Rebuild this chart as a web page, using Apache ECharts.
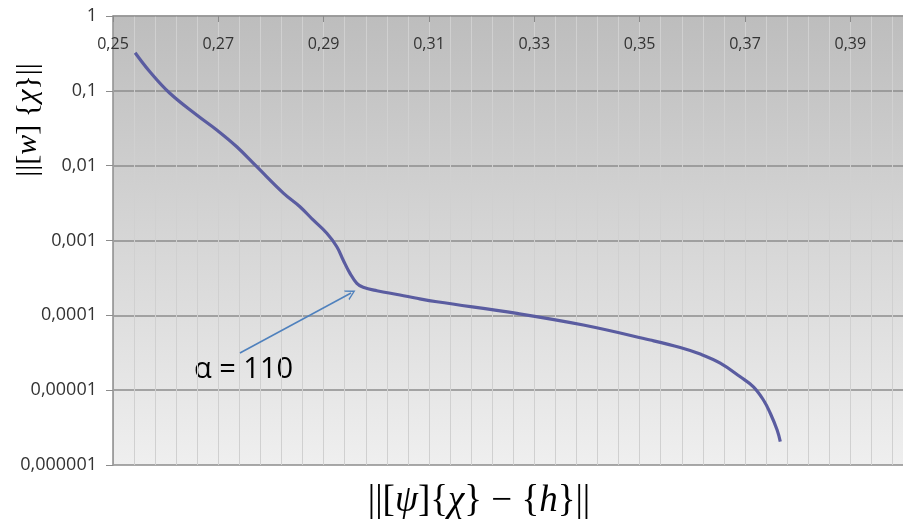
<!DOCTYPE html>
<html>
<head>
<meta charset="utf-8">
<script src="https://cdn.jsdelivr.net/npm/echarts@6/dist/echarts.min.js"></script>
<style>html,body{margin:0;padding:0;background:#fff}#c{width:903px;height:527px}</style>
</head>
<body>
<div id="c"></div>
<script>
// Curve samples
const xValues = [0.2542, 0.2570, 0.2608, 0.2659, 0.2697, 0.2735, 0.2773, 0.2824, 0.2855, 0.2880,
                 0.2906, 0.2925, 0.2937, 0.2950, 0.2963, 0.2975, 0.3001, 0.3045, 0.3077, 0.3115,
                 0.3267, 0.3393, 0.3520, 0.3577, 0.3615, 0.3653, 0.3691, 0.3716, 0.3735, 0.3748,
                 0.3761, 0.3767];
const yValues = [0.323, 0.180, 0.0927, 0.0475, 0.0300, 0.0179, 0.00969, 0.00427, 0.00283, 0.00188,
                 0.00125, 0.000826, 0.000549, 0.000364, 0.000268, 0.000237, 0.000213, 0.000187, 0.000169, 0.000152,
                 0.000106, 0.0000742, 0.0000468, 0.0000372, 0.0000304, 0.0000230, 0.0000151, 0.0000111, 0.00000739, 0.00000491,
                 0.00000293, 0.00000205];
// Tick labels
const yTickLabels = ['1', '0,1', '0,01', '0,001', '0,0001', '0,00001', '0,000001'];
const xTickValues = [0.25, 0.27, 0.29, 0.31, 0.33, 0.35, 0.37, 0.39];
const xTickLabels = ['0,25', '0,27', '0,29', '0,31', '0,33', '0,35', '0,37', '0,39'];
// Annotation
const annotationText = 'α = 110';
const arrowFrom = [0.2741, 0.0000314];
const arrowTo = [0.2952, 0.000199];

const X_MIN = 0.25, X_MAX = 0.40, X_GRID_STEP = 0.004;
const gridBox = {left: 113, right: 0, top: 16, bottom: 62};

const chart = echarts.init(document.getElementById('c'), null, {renderer: 'canvas'});
const data = xValues.map((x, i) => [x, yValues[i]]);

chart.setOption({
  animation: false,
  backgroundColor: '#ffffff',
  grid: [
    Object.assign({
      show: true, borderWidth: 0,
      backgroundColor: {
        type: 'linear', x: 0, y: 0, x2: 0, y2: 1,
        colorStops: [{offset: 0, color: '#bdbdbd'}, {offset: 1, color: '#efefef'}]
      }
    }, gridBox),
    Object.assign({show: false}, gridBox)
  ],
  xAxis: [{
    gridIndex: 0,
    type: 'value',
    position: 'top',
    min: X_MIN, max: X_MAX, interval: X_GRID_STEP,
    axisLine: {show: true, lineStyle: {color: '#9a9a9a', width: 1.5}},
    axisTick: {show: false},
    axisLabel: {
      inside: true, margin: 20, color: '#333333', fontSize: 16, fontFamily: 'Open Sans',
      customValues: xTickValues,
      formatter: (v) => {
        const i = xTickValues.findIndex(t => Math.abs(t - v) < 1e-6);
        return i >= 0 ? xTickLabels[i] : '';
      }
    },
    splitLine: {show: true, lineStyle: {color: '#d0d0d0', width: 1}}
  }, {
    gridIndex: 1,
    type: 'value',
    position: 'top',
    min: X_MIN, max: X_MAX,
    axisLine: {show: false},
    axisTick: {show: true, inside: true, length: 6, customValues: xTickValues, lineStyle: {color: '#8a8a8a'}},
    axisLabel: {show: false},
    splitLine: {show: false}
  }],
  yAxis: [{
    gridIndex: 0,
    type: 'log', logBase: 10, min: 0.000001, max: 1,
    axisLine: {show: true, lineStyle: {color: '#8c8c8c', width: 1.5}},
    axisTick: {show: true, length: 7, lineStyle: {color: '#8c8c8c'}},
    axisLabel: {
      margin: 16, color: '#333333', fontSize: 18, fontFamily: 'Open Sans',
      formatter: (v) => {
        const e = Math.round(-Math.log10(v));
        return yTickLabels[e] || '';
      }
    },
    splitLine: {show: true, lineStyle: {color: '#8c8c8c', width: 1.5}}
  }, {
    gridIndex: 1,
    type: 'log', logBase: 10, min: 0.000001, max: 1,
    show: false
  }],
  series: [{
    type: 'line',
    xAxisIndex: 0, yAxisIndex: 0,
    data: data,
    smooth: 0.4,
    showSymbol: false,
    lineStyle: {color: '#5a5ca0', width: 3.2},
    silent: true,
    markLine: {
      silent: true,
      animation: false,
      label: {show: false},
      lineStyle: {color: '#4f81bd', width: 1.5, type: 'solid'},
      symbol: ['none', 'path://M0,10 L5,0 L10,10 L8.6,10 L5,2.8 L1.4,10 Z'],
      symbolSize: [11, 10],
      data: [[{coord: arrowFrom}, {coord: arrowTo}]]
    }
  }],
  graphic: [
    {
      type: 'text', left: 194, top: 355,
      style: {text: annotationText, fill: '#000000', font: '29px "Open Sans"'}
    },
    {
      type: 'text', x: 28, y: 120, rotation: Math.PI / 2,
      style: {
        text: '||[{i|w}] {{i|χ}}||', align: 'center', verticalAlign: 'middle',
        fill: '#000000', font: '30px "Liberation Serif"',
        rich: {i: {fontStyle: 'italic', fontSize: 30, fontFamily: 'Liberation Serif'}}
      }
    },
    {
      type: 'text', x: 479, y: 501,
      style: {
        text: '||[{i|ψ}]{{i|χ}} − {{i|h}}||', align: 'center', verticalAlign: 'middle',
        fill: '#000000', font: '37px "Liberation Serif"',
        rich: {i: {fontStyle: 'italic', fontSize: 37, fontFamily: 'Liberation Serif'}}
      }
    }
  ]
});
</script>
</body>
</html>
